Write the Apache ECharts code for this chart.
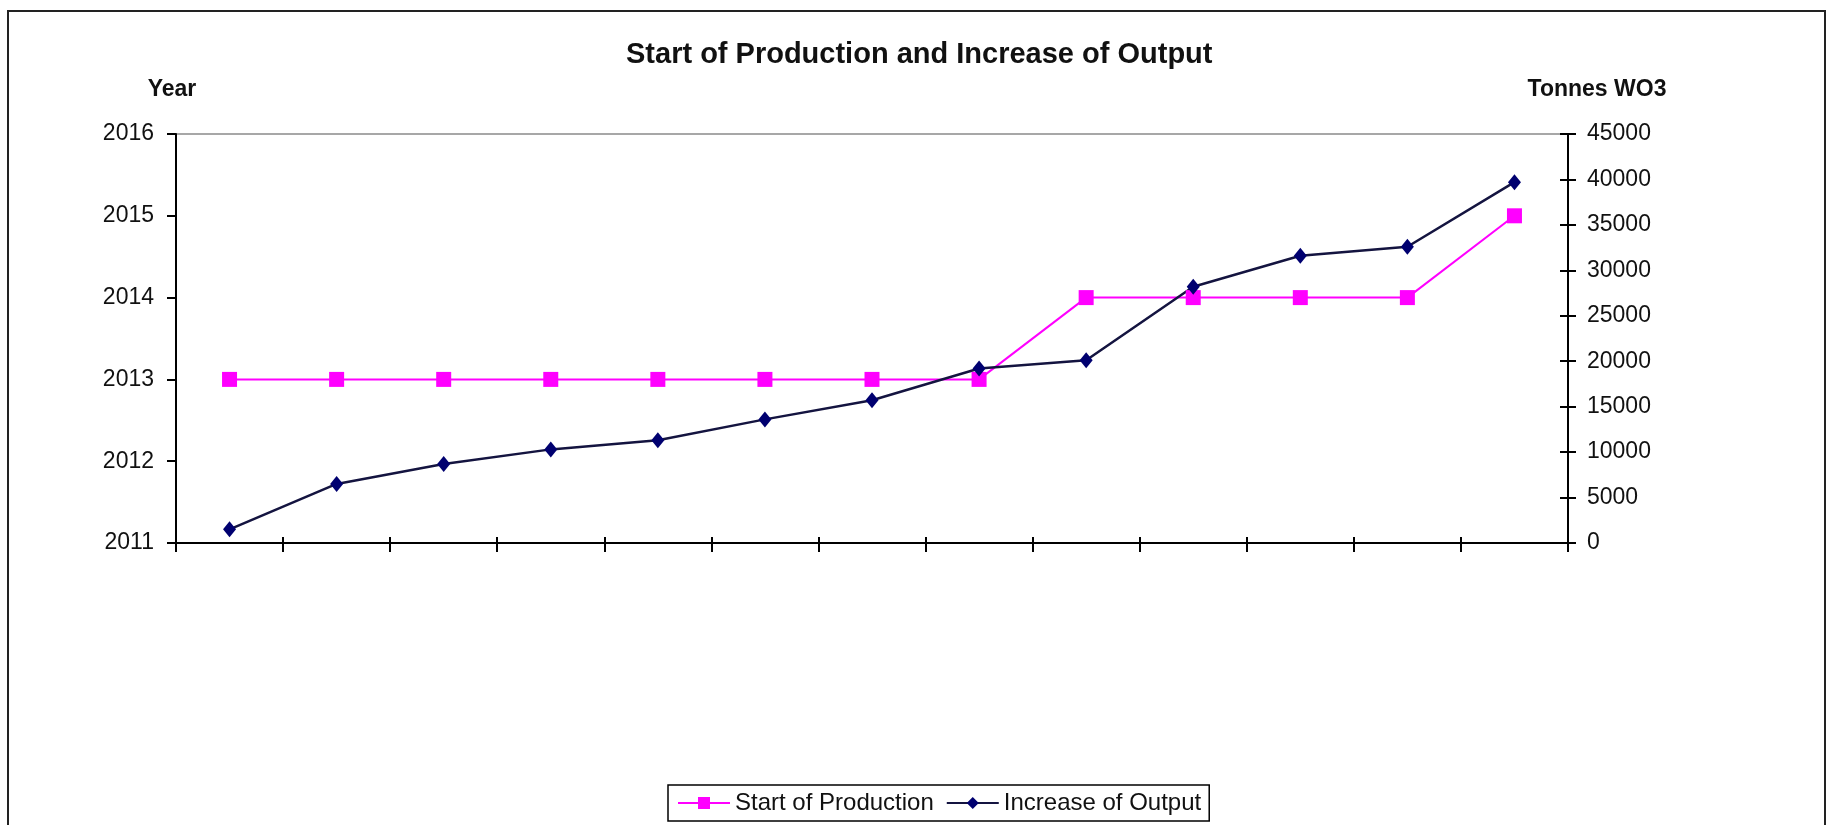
<!DOCTYPE html>
<html>
<head>
<meta charset="utf-8">
<script src="https://cdn.jsdelivr.net/npm/echarts@6/dist/echarts.min.js"></script>
<style>
  html, body { margin: 0; padding: 0; background: #fff; }
  #chart { width: 1832px; height: 825px; }
</style>
</head>
<body>
<div id="chart"></div>
<script>
// chart data
var categories = ['1', '2', '3', '4', '5', '6', '7', '8', '9', '10', '11', '12', '13'];
var startOfProduction = [2013, 2013, 2013, 2013, 2013, 2013, 2013, 2013, 2014, 2014, 2014, 2014, 2015];
var increaseOfOutput = [1500, 6500, 8700, 10300, 11300, 13600, 15700, 19200, 20100, 28200, 31600, 32600, 39700];

var font = '"Liberation Sans", Arial, sans-serif';

var dom = document.getElementById('chart');
var myChart = echarts.init(dom);
var option = {
    animation: false,
    backgroundColor: '#fff',
    textStyle: { fontFamily: font },
    title: {
        text: 'Start of Production and Increase of Output',
        left: 626,
        top: 40,
        padding: 0,
        textStyle: { fontFamily: font, fontSize: 29, fontWeight: 'bold', color: '#111' }
    },
    legend: {
        left: 668,
        top: 785,
        padding: [6, 8, 6, 9],
        itemGap: 12,
        itemWidth: 52,
        itemHeight: 15,
        borderColor: '#000',
        borderWidth: 1.5,
        borderRadius: 0,
        textStyle: { fontFamily: font, fontSize: 24, color: '#111' },
        data: ['Start of Production', 'Increase of Output']
    },
    graphic: [{
        type: 'rect',
        shape: { x: 8, y: 11, width: 1817, height: 840 },
        style: { fill: null, stroke: '#222', lineWidth: 2 },
        silent: true
    }],
    grid: {
        left: 176, right: 264, top: 134, bottom: 282,
        show: true, borderColor: '#8a8a8a', borderWidth: 1.5
    },
    xAxis: [
        {
            type: 'category', data: categories, position: 'bottom',
            boundaryGap: true,
            axisLine: { lineStyle: { color: '#000', width: 2 } },
            axisTick: { show: true, length: 9, lineStyle: { color: '#000', width: 2 } },
            axisLabel: { show: false },
            splitLine: { show: false }
        },
        {
            type: 'category', data: categories, position: 'bottom',
            boundaryGap: true,
            axisLine: { show: false },
            axisTick: { show: true, inside: true, length: 6, lineStyle: { color: '#000', width: 2 } },
            axisLabel: { show: false },
            splitLine: { show: false }
        }
    ],
    yAxis: [
        {
            type: 'value', position: 'left', min: 2011, max: 2016, interval: 1,
            name: 'Year', nameLocation: 'end', nameGap: 33,
            nameTextStyle: { fontFamily: font, fontSize: 23, fontWeight: 'bold', color: '#111', padding: [0, 8, 0, 0] },
            axisLine: { show: true, lineStyle: { color: '#000', width: 2 } },
            axisTick: { show: true, length: 9, lineStyle: { color: '#000', width: 2 } },
            axisLabel: { fontFamily: font, fontSize: 23, color: '#111', margin: 22,
                formatter: function (v) { return String(v); } },
            splitLine: { show: false }
        },
        {
            type: 'value', position: 'right', min: 0, max: 45000, interval: 5000,
            name: 'Tonnes WO3', nameLocation: 'end', nameGap: 33,
            nameTextStyle: { fontFamily: font, fontSize: 23, fontWeight: 'bold', color: '#111', padding: [0, 0, 0, 58] },
            axisLine: { show: true, lineStyle: { color: '#000', width: 2 } },
            axisTick: { show: true, length: 8, lineStyle: { color: '#000', width: 2 } },
            axisLabel: { fontFamily: font, fontSize: 23, color: '#111', margin: 19,
                formatter: function (v) { return String(v); } },
            splitLine: { show: false }
        },
        {
            type: 'value', position: 'right', min: 0, max: 45000, interval: 5000,
            axisLine: { show: false },
            axisTick: { show: true, inside: true, length: 8, lineStyle: { color: '#000', width: 2 } },
            axisLabel: { show: false },
            splitLine: { show: false }
        }
    ],
    series: [
        {
            name: 'Start of Production',
            type: 'line',
            xAxisIndex: 0,
            yAxisIndex: 0,
            data: startOfProduction,
            symbol: 'rect',
            symbolSize: 15,
            itemStyle: { color: '#ff00ff' },
            lineStyle: { color: '#ff00ff', width: 2 }
        },
        {
            name: 'Increase of Output',
            type: 'line',
            xAxisIndex: 0,
            yAxisIndex: 1,
            data: increaseOfOutput,
            symbol: 'diamond',
            symbolSize: [13, 16],
            itemStyle: { color: '#000070' },
            lineStyle: { color: '#141440', width: 2.5 }
        }
    ]
};

if (option && typeof option === 'object') {
    myChart.setOption(option, true);
}
</script>
</body>
</html>
